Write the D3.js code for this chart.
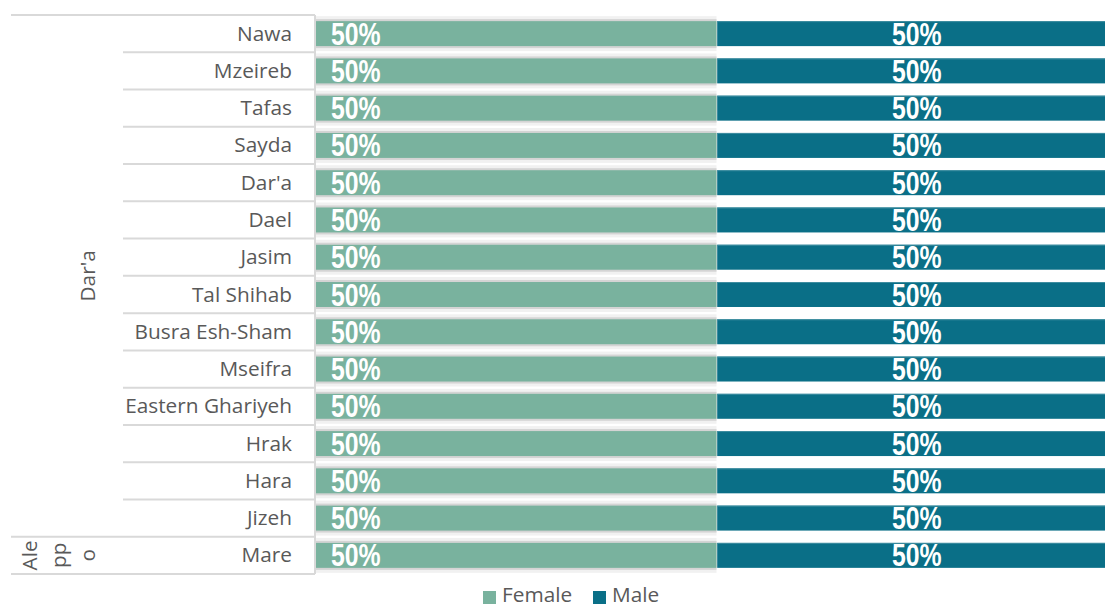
<!DOCTYPE html>
<html><head><meta charset="utf-8">
<script src="https://cdn.jsdelivr.net/npm/d3@7"></script>
<style>body{margin:0;background:#fff}svg{display:block}</style>
</head><body>
<svg id="c" width="1105" height="608"></svg>
<script>
const categories = ["Nawa","Mzeireb","Tafas","Sayda","Dar'a","Dael","Jasim","Tal Shihab","Busra Esh-Sham","Mseifra","Eastern Ghariyeh","Hrak","Hara","Jizeh","Mare"];
const groups = ["Dar'a","Dar'a","Dar'a","Dar'a","Dar'a","Dar'a","Dar'a","Dar'a","Dar'a","Dar'a","Dar'a","Dar'a","Dar'a","Dar'a","Aleppo"];
const female = [50,50,50,50,50,50,50,50,50,50,50,50,50,50,50];
const male = [50,50,50,50,50,50,50,50,50,50,50,50,50,50,50];
const seriesNames = ["Female","Male"];
const colors = ["#79b29e","#0a6f87"];

const svg = d3.select("#c");
const y = d3.scaleBand().domain(categories).range([15, 574]).paddingInner(0.33).paddingOuter(0.165);
const x = d3.scaleLinear().domain([0, 100]).range([316, 1117]);
const grid = "#d9d9d9";
const labelFont = "'Open Sans', 'Noto Sans', sans-serif";
const fs = 20.8;

const data = categories.map((c,i)=>({c, g:groups[i], f:female[i], m:male[i]}));

const sh = svg.append("g");
data.forEach(d=>{
  const y0 = y(d.c), h = y.bandwidth();
  sh.append("rect").attr("x", x(0)).attr("y", y0-5).attr("width", x(d.f)-x(0)).attr("height", h+10).attr("fill","#f1f1f1");
  sh.append("rect").attr("x", x(0)).attr("y", y0-2).attr("width", x(d.f)-x(0)).attr("height", h+4).attr("fill","#d4d4d4");
});

const bars = svg.append("g");
bars.selectAll("rect.f").data(data).join("rect").attr("class","f")
  .attr("x", x(0)).attr("y", d=>y(d.c)).attr("width", d=>x(d.f)-x(0)).attr("height", y.bandwidth()).attr("fill", colors[0]);
bars.selectAll("rect.m").data(data).join("rect").attr("class","m")
  .attr("x", d=>x(d.f)+0.7).attr("y", d=>y(d.c)).attr("width", d=>x(d.f+d.m)-x(d.f)).attr("height", y.bandwidth()).attr("fill", colors[1]);
bars.selectAll("line.mt").data(data).join("line").attr("class","mt")
  .attr("x1", d=>x(d.f)+0.7).attr("x2", d=>x(d.f+d.m)).attr("y1", d=>y(d.c)+0.5).attr("y2", d=>y(d.c)+0.5).attr("stroke","#3f8ea1").attr("stroke-width",1);

const lf = "'Liberation Sans', Arial, sans-serif";
const sx = 0.8;
bars.selectAll("text.fl").data(data).join("text").attr("class","fl")
  .attr("transform", d=>`translate(${x(0)+15},${y(d.c)+y.bandwidth()/2+11}) scale(${sx},1)`)
  .attr("font-family", lf).attr("font-weight","bold").attr("font-size",31).attr("fill","#fff")
  .text(d=>d.f+"%");
bars.selectAll("text.ml").data(data).join("text").attr("class","ml")
  .attr("transform", d=>`translate(${(x(d.f)+x(d.f+d.m))/2},${y(d.c)+y.bandwidth()/2+11}) scale(${sx},1)`)
  .attr("text-anchor","middle")
  .attr("font-family", lf).attr("font-weight","bold").attr("font-size",31).attr("fill","#fff")
  .text(d=>d.m+"%");

const ax = svg.append("g");
const step = y.step();
const top0 = 15;
categories.forEach((c,i)=>{
  const yy = top0 + step*i;
  const isGroupStart = i===0 || groups[i]!==groups[i-1];
  ax.append("line").attr("x1", isGroupStart?11:123).attr("x2",315).attr("y1",yy).attr("y2",yy).attr("stroke",grid).attr("stroke-width",2);
});
ax.append("line").attr("x1",11).attr("x2",315).attr("y1",top0+step*categories.length).attr("y2",top0+step*categories.length).attr("stroke",grid).attr("stroke-width",2);
ax.append("line").attr("x1",315).attr("x2",315).attr("y1",top0).attr("y2",top0+step*categories.length).attr("stroke",grid).attr("stroke-width",2);

ax.selectAll("text.cat").data(data).join("text").attr("class","cat")
  .attr("x",292).attr("y", d=>y(d.c)+y.bandwidth()/2+7).attr("text-anchor","end")
  .attr("font-family", labelFont).attr("font-size",fs).attr("fill","#595959").text(d=>d.c);

const gnames = Array.from(new Set(groups));
const gInfo = gnames.map(g=>{
  const idx = groups.map((v,i)=>v===g?i:-1).filter(i=>i>=0);
  return {g, y0: top0+step*idx[0], y1: top0+step*(idx[idx.length-1]+1)};
});
gInfo.forEach(gi=>{
  const cy = (gi.y0+gi.y1)/2;
  const lines = gi.g==="Aleppo" ? ["Ale","pp","o"] : [gi.g];
  const xs = lines.length===1 ? [95] : [37,66,95];
  lines.forEach((ln,k)=>{
    ax.append("text").attr("transform",`translate(${xs[k]},${cy}) rotate(-90)`)
      .attr("text-anchor","middle").attr("font-family",labelFont).attr("font-size",fs).attr("fill","#595959").text(ln);
  });
});

const leg = svg.append("g");
const legItems = [{n:seriesNames[0],c:colors[0],x:483,tx:502},{n:seriesNames[1],c:colors[1],x:593,tx:612}];
legItems.forEach(it=>{
  leg.append("rect").attr("x",it.x).attr("y",591).attr("width",13).attr("height",13).attr("fill",it.c);
  leg.append("text").attr("x",it.tx).attr("y",602).attr("font-family",labelFont).attr("font-size",fs).attr("fill","#595959").text(it.n);
});
</script>
</body></html>
